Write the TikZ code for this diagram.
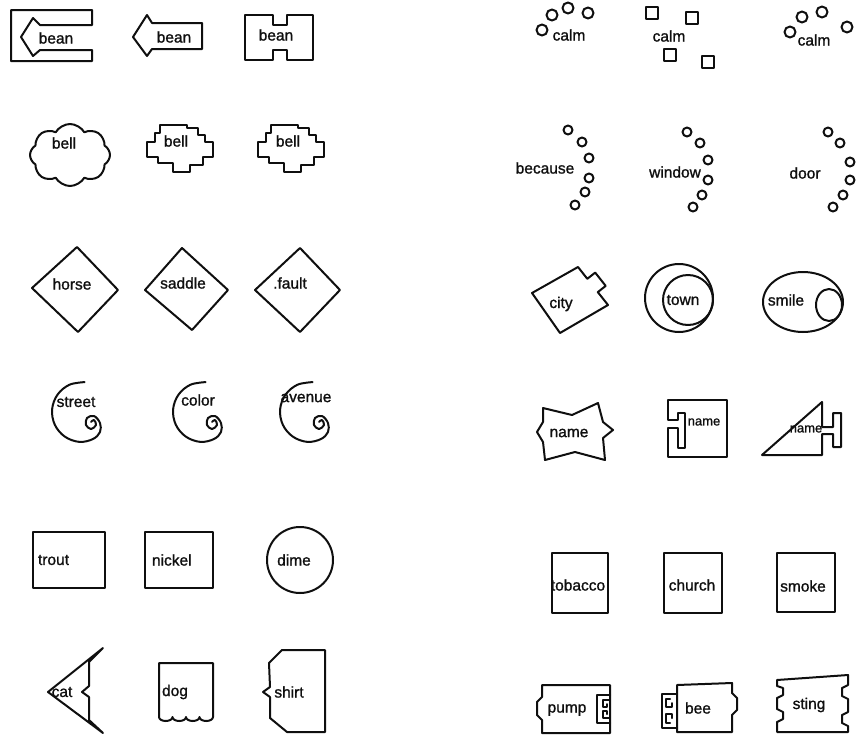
\documentclass[tikz,border=0pt]{standalone}
\usepackage{fontspec}
\newfontfamily\handfont[FakeBold=1.2]{Liberation Sans}
\usetikzlibrary{shapes.symbols}
\definecolor{myink}{RGB}{15,15,15}

\begin{document}
\begin{tikzpicture}[x=1pt, y=-1pt, myink, line width=2pt, line join=round, line cap=round,
  every node/.style={font=\handfont\fontsize{15.5}{17}\selectfont, inner sep=0pt},
  small word/.style={font=\handfont\fontsize{13}{14}\selectfont}]
  \useasboundingbox (0,0) rectangle (856,736);

  % ================= left half =================
  % --- bean: arrow inside an open box ---
  \draw (92,25) -- (40,25) -- (33,18) -- (21,37) -- (33,56) -- (40,50) -- (92,50)
    -- (92,61) -- (11,61) -- (11,10) -- (92,10) -- cycle;
  \node (bean1) at (56,38) {bean};
  % --- bean: plain arrow ---
  \draw (202,23) -- (152,23) -- (147,15) -- (133,37) -- (147,56) -- (152,49) -- (202,49) -- cycle;
  \node (bean2) at (174,37) {bean};
  % --- bean: H block ---
  \draw (245,15) -- (273,15) -- (273,25) -- (287,25) -- (287,15) -- (313,15) -- (313,60)
    -- (287,60) -- (287,50) -- (273,50) -- (273,60) -- (245,60) -- cycle;
  \node (bean3) at (276,35) {bean};

  % --- bell: cloud ---
  \node[draw, cloud, cloud puffs=8, cloud puff arc=120, aspect=1.25,
        minimum width=80pt, minimum height=62pt] (bellcloud) at (70,155) {};
  \node (bell1) at (64,143) {bell};
  % --- bell: stepped blobs ---
  \foreach \dx in {0,111}{
    \draw[shift={(\dx,0)}] (147,142) -- (147,157) -- (158,157) -- (158,163) -- (173,163)
      -- (173,172) -- (190,172) -- (190,165) -- (203,165) -- (203,157) -- (213,157)
      -- (213,142) -- (205,142) -- (205,135) -- (198,135) -- (198,128) -- (187,128)
      -- (187,125) -- (160,125) -- (160,133) -- (155,133) -- (155,142) -- cycle;
  }
  \node (bell2) at (176,141) {bell};
  \node (bell3) at (288,141) {bell};

  % --- diamonds ---
  \draw (32,288) -- (77,247) -- (118,290) -- (78,332) -- cycle;
  \node (horse) at (72,284) {horse};
  \draw (145,290) -- (182,248) -- (228,290) -- (192,330) -- cycle;
  \node (saddle) at (183,283) {saddle};
  \draw (255,290) -- (300,248) -- (340,290) -- (300,332) -- cycle;
  \node (fault) at (290,283) {.fault};

  % --- spirals ---
  \foreach \cx/\cy in {82/412, 203/412, 310/412}{
    \draw[shift={(\cx,\cy)}] plot[smooth, tension=0.6] coordinates {
      (2.6,-29.9) (-12.7,-27.2) (-24.6,-17.2) (-29.9,-2.6) (-27.2,12.7) (-17.2,24.6)
      (-2.6,29.9) (11,27) (18,20) (18,11) (12,4) (5,6) (4,13) (9,17) (14,13) (12,8) (9,10)};
  }
  \node (street) at (76,402) {street};
  \node (color) at (198,400) {color};
  \node (avenue) at (306,398) {avenue};

  % --- boxes and circle ---
  \draw (33,532) rectangle (105,588);
  \node[anchor=west] (trout) at (37,560) {trout};
  \draw (145,532) rectangle (213,588);
  \node[anchor=west] (nickel) at (151,560) {nickel};
  \draw (300,560) circle (33);
  \node (dime) at (294,560) {dime};

  % --- cat: chevron with notched back ---
  \draw (103,648) -- (48,692) -- (103,733) -- (89,720) -- (89,697) -- (82,692)
    -- (89,686) -- (89,662) -- cycle;
  \node (cat) at (62,692) {cat};
  % --- dog: box with scalloped foot ---
  \draw (213,712) -- (213,663) -- (159,663) -- (159,717)
    arc[start angle=180, end angle=0, x radius=6.75, y radius=4]
    arc[start angle=180, end angle=0, x radius=6.75, y radius=4]
    arc[start angle=180, end angle=0, x radius=6.75, y radius=4]
    arc[start angle=180, end angle=0, x radius=6.75, y radius=4] -- cycle;
  \node (dog) at (175,692) {dog};
  % --- shirt ---
  \draw (269,663) -- (282,650) -- (325,650) -- (325,732) -- (287,732) -- (270,718)
    -- (270,697) -- (263,692) -- (270,687) -- cycle;
  \node (shirt) at (289,692) {shirt};

  % ================= right half =================
  % --- calm ---
  \foreach \cx/\cy in {542/30, 552/15, 568/8, 588/13, 790/32, 802/17, 822/12, 847/27}
    \draw (\cx,\cy) circle (5.5);
  \foreach \cx/\cy in {652/13, 692/18, 670/55, 708/62}
    \draw ({\cx-6},{\cy-6}) rectangle ({\cx+6},{\cy+6});
  \node (calm1) at (569,35) {calm};
  \node (calm2) at (669,36) {calm};
  \node (calm3) at (814,40) {calm};

  % --- arcs of small rings ---
  \foreach \cx/\cy in {568/130, 582/142, 589/158, 589/178, 585/192, 575/205,
                       687/132, 700/143, 708/160, 708/180, 702/195, 693/207,
                       828/132, 840/143, 850/162, 850/180, 843/195, 833/207}
    \draw (\cx,\cy) circle (4.5);
  \node (because) at (545,168) {because};
  \node (window) at (675,172) {window};
  \node (door) at (805,173) {door};

  % --- city: tilted box with tab ---
  \draw (532,293) -- (578,267) -- (587.3,278.8) -- (595.2,272.6) -- (605.7,285.9)
    -- (597.8,292.1) -- (608,305) -- (560,333) -- cycle;
  \node (city) at (561,304) {city};
  % --- town: circle in circle ---
  \draw (679,298) circle (34);
  \draw (688,300) circle (25);
  \node (town) at (683,300) {town};
  % --- smile ---
  \draw (803,302) ellipse [x radius=40, y radius=30];
  \draw (829,305) ellipse [x radius=13, y radius=16];
  \node (smile) at (786,300) {smile};

  % --- name: star, slotted square, slotted triangle ---
  \draw (543,408) -- (572,415) -- (598,403) -- (603,422) -- (613,430) -- (603,438)
    -- (605,460) -- (575,452) -- (545,460) -- (543,442) -- (537,432) -- (543,422) -- cycle;
  \node (name1) at (569,433) {name};
  \draw (668,400) -- (668,420) -- (678,420) -- (678,413) -- (685,413) -- (685,448)
    -- (678,448) -- (678,428) -- (668,428) -- (668,457) -- (727,457) -- (727,400) -- cycle;
  \node[small word] (name2) at (704,422) {name};
  \draw (822,402) -- (822,427) -- (833,427) -- (833,413) -- (841,413) -- (841,447)
    -- (833,447) -- (833,434) -- (822,434) -- (822,455) -- (762,455) -- cycle;
  \node[small word] (name3) at (806,429) {name};

  % --- tall boxes ---
  \draw (552,553) rectangle (608,613);
  \node (tobacco) at (578,585) {tobacco};
  \draw (664,553) rectangle (722,613);
  \node (church) at (692,585) {church};
  \draw (777,553) rectangle (835,612);
  \node (smoke) at (803,586) {smoke};

  % --- pump: box with clip on the right ---
  \draw (542,685) -- (610,685) -- (610,733) -- (542,733) -- (542,720) -- (537,715)
    -- (537,702) -- (542,697) -- cycle;
  \draw (610,695) -- (597,695) -- (597,723) -- (610,723);
  \draw (609,700) -- (603,700) -- (603,707) -- (607,707) -- (607,704);
  \draw (609,718) -- (603,718) -- (603,711) -- (607,711) -- (607,714);
  \node (pump) at (567,710) {pump};
  % --- bee: box with clip on the left ---
  \draw (677,685) -- (732,683) -- (732,693) -- (737,698) -- (737,710) -- (732,715)
    -- (732,732) -- (677,732) -- cycle;
  \draw (677,694) -- (662,694) -- (662,728) -- (677,728);
  \draw (670,699) -- (666,699) -- (666,707) -- (672,707) -- (672,703);
  \draw (670,723) -- (666,723) -- (666,714) -- (672,714) -- (672,718);
  \node (bee) at (698,708) {bee};
  % --- sting: box with notched sides ---
  \draw (777,680) -- (848,675) -- (848,685) -- (842,688) -- (842,696) -- (848,699)
    -- (848,712) -- (842,715) -- (842,723) -- (848,726) -- (848,732) -- (777,732)
    -- (777,722) -- (783,719) -- (783,712) -- (777,709) -- (777,698) -- (783,695)
    -- (783,688) -- (777,686) -- cycle;
  \node (sting) at (809,705) {sting};
\end{tikzpicture}
\end{document}
